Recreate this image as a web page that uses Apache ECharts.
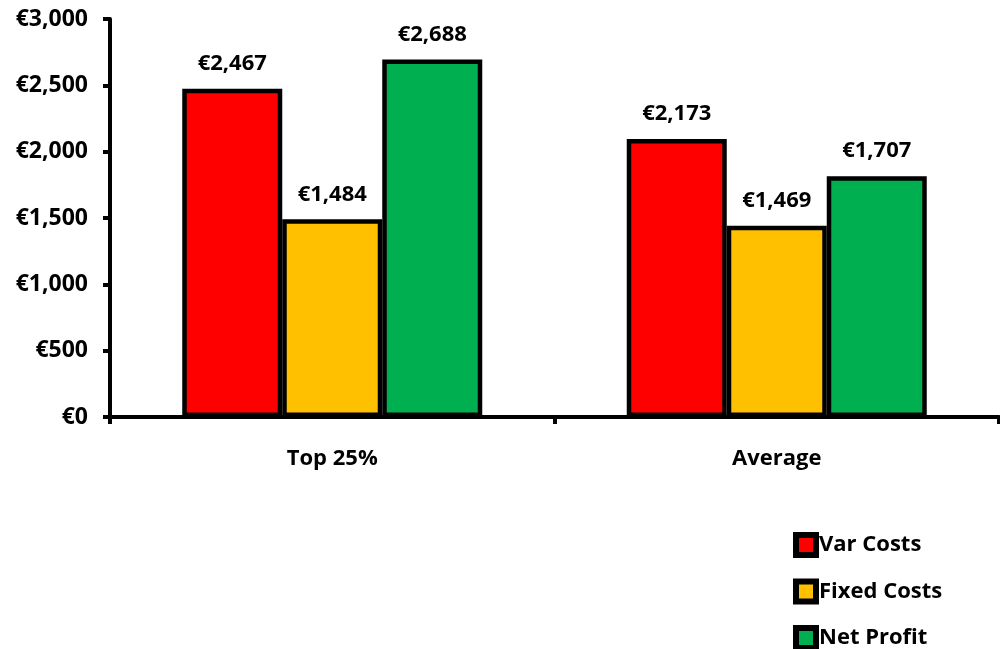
<!DOCTYPE html>
<html>
<head>
<meta charset="utf-8">
<script src="https://cdn.jsdelivr.net/npm/echarts@6/dist/echarts.min.js"></script>
<style>html,body{margin:0;padding:0;background:#fff}#c{width:1000px;height:649px}</style>
</head>
<body>
<div id="c"></div>
<script>
var categories = ['Top 25%', 'Average'];
var seriesNames = ['Var Costs', 'Fixed Costs', 'Net Profit'];
// bar heights as drawn
var varCosts = [2475, 2095];
var fixedCosts = [1490, 1442];
var netProfit = [2695, 1815];
// data label texts as printed
var varLabels = ['€2,467', '€2,173'];
var fixedLabels = ['€1,484', '€1,469'];
var netLabels = ['€2,688', '€1,707'];
var yTicks = [0, 500, 1000, 1500, 2000, 2500, 3000];
var colors = ['#FF0000', '#FFC000', '#00B050'];

var FONT = 'Open Sans';
function mk(name, data, labels, color) {
  return {
    name: name, type: 'bar', data: data, barWidth: 100, barGap: '0%',
    itemStyle: {color: color, borderColor: '#000', borderWidth: 4.5},
    label: {show: true, position: 'top', distance: 14, color: '#000',
      fontFamily: FONT, fontWeight: 'bold', fontSize: 22,
      formatter: function (p) { return labels[p.dataIndex]; }}
  };
}
var rich = {
  n: {color: '#000', fontFamily: FONT, fontWeight: 'bold', fontSize: 22, lineHeight: 22, padding: [0, 0, 0, 6]}
};
seriesNames.forEach(function (s, i) {
  rich['k' + i] = {width: 14, height: 14, backgroundColor: colors[i], borderColor: '#000', borderWidth: 6, lineHeight: 22};
});

var chart = echarts.init(document.getElementById('c'));
chart.setOption({
  animation: false,
  backgroundColor: '#fff',
  grid: {left: 110, right: 1, top: 19, bottom: 232, containLabel: false},
  xAxis: {
    type: 'category', data: categories,
    axisLine: {lineStyle: {color: '#000', width: 4}},
    axisTick: {show: true, length: 7, lineStyle: {color: '#000', width: 4}},
    axisLabel: {margin: 31, color: '#000', fontFamily: FONT, fontWeight: 'bold', fontSize: 22}
  },
  yAxis: {
    type: 'value', min: yTicks[0], max: yTicks[yTicks.length - 1], interval: 500,
    splitLine: {show: false},
    axisLine: {show: true, lineStyle: {color: '#000', width: 4}},
    axisTick: {show: true, length: 7, lineStyle: {color: '#000', width: 4}},
    axisLabel: {margin: 22, color: '#000', fontFamily: FONT, fontWeight: 'bold', fontSize: 23,
      formatter: function (v) { return '€' + v.toLocaleString('en-US'); }}
  },
  legend: {
    orient: 'vertical', left: 793, top: 532, padding: 0, height: 400,
    itemWidth: 0, itemHeight: 16, itemGap: 20.5,
    icon: 'none',
    formatter: function (name) {
      var i = seriesNames.indexOf(name);
      return '{k' + i + '|}{n|' + name + '}';
    },
    textStyle: {color: '#000', fontFamily: FONT, fontWeight: 'bold', fontSize: 22, lineHeight: 22, rich: rich},
    data: seriesNames
  },
  series: [
    mk(seriesNames[0], varCosts, varLabels, colors[0]),
    mk(seriesNames[1], fixedCosts, fixedLabels, colors[1]),
    mk(seriesNames[2], netProfit, netLabels, colors[2])
  ]
});
</script>
</body>
</html>
